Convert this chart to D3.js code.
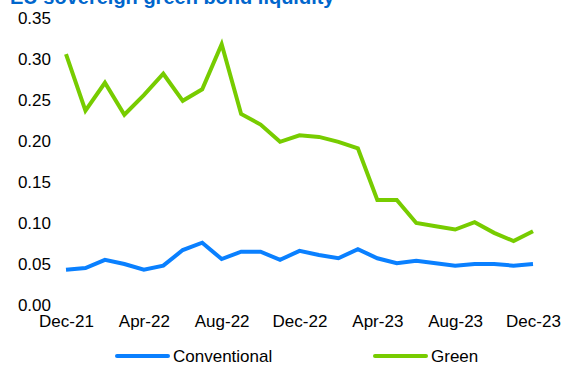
<!DOCTYPE html>
<html><head><meta charset="utf-8">
<script src="https://cdn.jsdelivr.net/npm/d3@7"></script>
<style>body{margin:0;background:#fff}svg{display:block}</style>
</head><body><svg id="c" width="567" height="367"></svg>
<script>
const title = "EU sovereign green bond liquidity";
const months = ["Dec-21","Jan-22","Feb-22","Mar-22","Apr-22","May-22","Jun-22","Jul-22","Aug-22","Sep-22","Oct-22","Nov-22","Dec-22","Jan-23","Feb-23","Mar-23","Apr-23","May-23","Jun-23","Jul-23","Aug-23","Sep-23","Oct-23","Nov-23","Dec-23"];
const conventional = [0.043,0.045,0.055,0.050,0.043,0.048,0.067,0.076,0.056,0.065,0.065,0.055,0.066,0.061,0.057,0.068,0.057,0.051,0.054,0.051,0.048,0.050,0.050,0.048,0.050];
const green = [0.306,0.237,0.271,0.232,0.256,0.282,0.249,0.263,0.318,0.233,0.220,0.199,0.207,0.205,0.199,0.191,0.128,0.128,0.100,0.096,0.092,0.101,0.088,0.078,0.090];
const yTicks = [0,0.05,0.10,0.15,0.20,0.25,0.30,0.35];
const xTickLabels = ["Dec-21","Apr-22","Aug-22","Dec-22","Apr-23","Aug-23","Dec-23"];
const seriesNames = ["Conventional","Green"];
const colors = ["#0A80FF","#77CC00"];

const svg = d3.select("#c");
const font = "'Liberation Sans', Arial, sans-serif";
const x = d3.scalePoint().domain(months).range([66,533]);
const y = d3.scaleLinear().domain([0,0.35]).range([305,18]);

svg.append("text").attr("x",10).attr("y",4).text(title)
  .attr("font-family",font).attr("font-weight","bold").attr("font-size",20).attr("fill","#0066CC");

const ya = svg.append("g").attr("transform","translate(51,0)")
  .call(d3.axisLeft(y).tickValues(yTicks).tickFormat(d3.format(".2f")).tickSize(0).tickPadding(0));
ya.select(".domain").remove();
ya.selectAll("text").attr("font-family",font).attr("font-size",17).attr("fill","#000");

const xa = svg.append("g").attr("transform","translate(0,315)")
  .call(d3.axisBottom(x).tickValues(xTickLabels).tickSize(0).tickPadding(0));
xa.select(".domain").remove();
xa.selectAll("text").attr("font-family",font).attr("font-size",17).attr("fill","#000");

const line = d3.line().x((d,i)=>x(months[i])).y(d=>y(d));
[conventional, green].forEach((s,k)=>{
  svg.append("path").attr("d",line(s)).attr("fill","none")
    .attr("stroke",colors[k]).attr("stroke-width",4).attr("stroke-linejoin","miter");
});

const legX = [117,375];
seriesNames.forEach((n,k)=>{
  svg.append("line").attr("x1",legX[k]).attr("x2",legX[k]+51).attr("y1",356).attr("y2",356)
    .attr("stroke",colors[k]).attr("stroke-width",4).attr("stroke-linecap","round");
  svg.append("text").attr("x",legX[k]+56).attr("y",356).attr("dy","0.35em").text(n)
    .attr("font-family",font).attr("font-size",17).attr("fill","#000");
});
</script></body></html>
